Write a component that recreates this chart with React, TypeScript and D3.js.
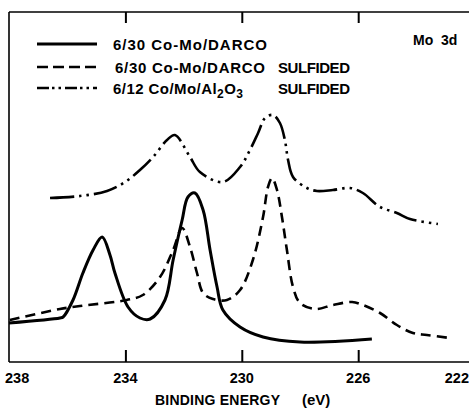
import React, { useRef, useEffect } from 'react'
import * as d3 from 'd3'

// binding energy (eV) / intensity (arb. units)
const solidE = [238.0, 236.25, 236.14, 235.8, 235.46, 235.11, 234.8, 234.53, 234.36, 233.91, 233.5, 233.15, 232.64, 232.36, 232.05, 231.85, 231.61, 231.33, 231.09, 230.85, 230.65, 230.06, 229.27, 228.0, 225.53]
const solidI = [39, 44, 45, 62, 89, 112, 125, 107, 89, 55, 44, 43, 62, 102, 142, 165, 169, 152, 112, 75, 52, 35, 25, 20, 23]

const dashedE = [237.97, 236.25, 235.56, 233.95, 233.4, 232.81, 232.36, 232.05, 231.78, 231.54, 231.33, 230.99, 230.51, 230.06, 229.62, 229.27, 229.1, 228.96, 228.79, 228.62, 228.45, 228.24, 228.0, 227.48, 226.87, 226.21, 225.84, 225.25, 224.67, 224.12, 223.64, 222.85]
const dashedI = [42, 53, 56, 62, 67, 85, 112, 134, 115, 89, 69, 63, 62, 72, 102, 145, 175, 184, 172, 145, 112, 75, 59, 53, 57, 60, 57, 49, 37, 29, 27, 24]

const dotE = [236.59, 235.56, 234.63, 234.01, 233.5, 233.05, 232.57, 232.3, 231.78, 231.44, 230.65, 230.06, 229.72, 229.44, 229.2, 228.93, 228.69, 228.52, 228.41, 228.24, 227.76, 227.42, 226.87, 226.28, 225.84, 225.25, 224.67, 224.22, 223.26]
const dotI = [164, 166, 171, 180, 192, 205, 222, 227, 205, 190, 180, 195, 212, 229, 244, 247, 239, 222, 202, 185, 174, 171, 172, 174, 169, 155, 149, 143, 138]

const innerTicks = [234, 230, 226]
const tickLabels = [238, 234, 230, 226, 222]

const series = [
  { name: '6/30 Co-Mo/DARCO', extra: '', e: solidE, i: solidI, dash: null, width: 3 },
  { name: '6/30 Co-Mo/DARCO', extra: 'SULFIDED', e: dashedE, i: dashedI, dash: '10 6', width: 2.6 },
  { name: '6/12 Co/Mo/Al2O3', extra: 'SULFIDED', e: dotE, i: dotI, dash: '24 5 2.5 5 2.5 5', width: 2.6 },
]

const W = 469
const H = 408
const font = '"Liberation Sans", Arial, Helvetica, sans-serif'

const App = () => {
  const svgRef = useRef<SVGSVGElement>(null)

  useEffect(() => {
    const svg = d3.select(svgRef.current)
    svg.selectAll('*').remove()

    const x = d3.scaleLinear().domain([238, 222]).range([9, 474.6])
    const y = d3.scaleLinear().domain([0, 350]).range([362, 12])

    // frame
    const frame = svg.append('g').attr('stroke', '#000').attr('stroke-width', 1.6).attr('fill', 'none')
    frame.append('line').attr('x1', x(238)).attr('x2', W).attr('y1', y(0)).attr('y2', y(0))
    frame.append('line').attr('x1', x(238)).attr('x2', W).attr('y1', y(350)).attr('y2', y(350))
    frame.append('line').attr('x1', x(238)).attr('x2', x(238)).attr('y1', y(0)).attr('y2', y(350))

    // ticks pointing inward, bottom and top
    const bottomAxis = svg.append('g')
      .attr('transform', `translate(0,${y(0)})`)
      .call(d3.axisTop(x).tickValues(innerTicks).tickSize(12).tickFormat(() => ''))
    const topAxis = svg.append('g')
      .attr('transform', `translate(0,${y(350)})`)
      .call(d3.axisBottom(x).tickValues(innerTicks).tickSize(11).tickFormat(() => ''))
    ;[bottomAxis, topAxis].forEach(a => {
      a.select('.domain').remove()
      a.selectAll('line').attr('stroke', '#000').attr('stroke-width', 2)
    })

    // tick labels
    svg.append('g')
      .selectAll('text')
      .data(tickLabels)
      .enter()
      .append('text')
      .attr('x', d => d === 238 ? x(d) - 4 : d === 222 ? W : x(d))
      .attr('y', 383)
      .attr('text-anchor', d => d === 238 ? 'start' : d === 222 ? 'end' : 'middle')
      .attr('font-family', font)
      .attr('font-weight', 'bold')
      .attr('font-size', 14.5)
      .text(d => d)

    const titleG = svg.append('g')
      .attr('font-family', font)
      .attr('font-weight', 'bold')
      .attr('font-size', 14)
    titleG.append('text').attr('x', 155).attr('y', 405)
      .attr('textLength', 125).attr('lengthAdjust', 'spacing').text('BINDING ENERGY')
    titleG.append('text').attr('x', 302).attr('y', 405).attr('font-size', 15).text('(eV)')

    // curves
    const line = d3.line<[number, number]>()
      .x(d => x(d[0]))
      .y(d => y(d[1]))
      .curve(d3.curveCatmullRom.alpha(0.5))

    series.forEach(s => {
      const pts = s.e.map((e, k) => [e, s.i[k]] as [number, number])
      svg.append('path')
        .datum(pts)
        .attr('d', line)
        .attr('fill', 'none')
        .attr('stroke', '#000')
        .attr('stroke-width', s.width)
        .attr('stroke-dasharray', s.dash)
        .attr('stroke-linejoin', 'round')
    })

    // legend
    const rowY = [44, 67, 88]
    const nameW = [154, 150, 130]
    const legend = svg.append('g').attr('font-family', font).attr('font-weight', 'bold').attr('font-size', 15)
    series.forEach((s, k) => {
      const ly = rowY[k]
      legend.append('line')
        .attr('x1', 37).attr('x2', 97).attr('y1', ly).attr('y2', ly)
        .attr('stroke', '#000').attr('stroke-width', s.width)
        .attr('stroke-dasharray', k === 1 ? '11 5' : k === 2 ? '12 3 2.5 4 2.5 4' : null)
      const t = legend.append('text').attr('x', 113 + (k === 1 ? 2 : 0)).attr('y', ly + 6)
        .attr('textLength', nameW[k]).attr('lengthAdjust', 'spacing')
      if (k === 2) {
        t.append('tspan').text('6/12 Co/Mo/Al')
        t.append('tspan').attr('dy', 4).attr('font-size', 12).text('2')
        t.append('tspan').attr('dy', -4).text('O')
        t.append('tspan').attr('dy', 4).attr('font-size', 12).text('3')
      } else {
        t.text(s.name)
      }
      if (s.extra) {
        legend.append('text').attr('x', 278).attr('y', ly + 6)
          .attr('textLength', 72).attr('lengthAdjust', 'spacing').text(s.extra)
      }
    })
    legend.append('text').attr('x', 413).attr('y', 45).attr('font-size', 14).attr('xml:space', 'preserve').text('Mo  3d')
  }, [])

  return (
    <div style={{ position: 'absolute', left: 0, top: 0 }}>
      <svg ref={svgRef} width={W} height={H} style={{ display: 'block', background: '#fff' }}></svg>
    </div>
  )
}

export default App
